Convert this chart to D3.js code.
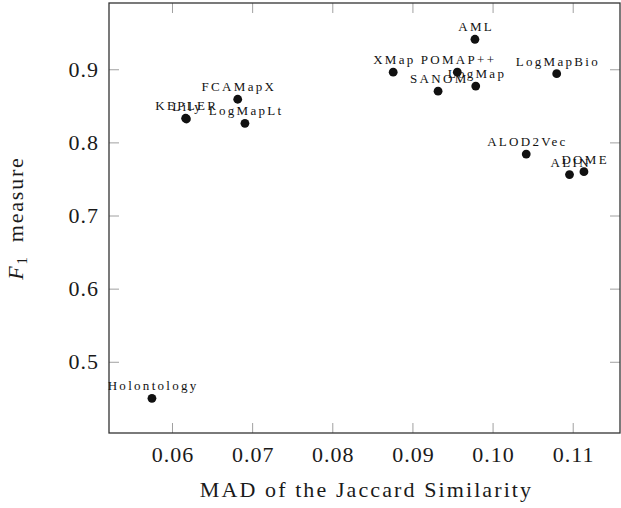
<!DOCTYPE html>
<html>
<head>
<meta charset="utf-8">
<script src="https://cdn.jsdelivr.net/npm/d3@7"></script>
<style>
  body { margin: 0; background: #fff; }
  text { font-family: "Liberation Serif", "DejaVu Serif", serif; fill: #1a1a1a; }
</style>
</head>
<body>
<svg width="621" height="508"></svg>
<script>
var systems = ['Holontology', 'KEPLER', 'Lily', 'FCAMapX', 'LogMapLt', 'XMap', 'POMAP++', 'SANOM',
		'AML', 'LogMap', 'LogMapBio', 'ALOD2Vec', 'ALIN', 'DOME'],
	mad = [0.0575, 0.0617, 0.0618, 0.0682, 0.0691, 0.0876, 0.0956, 0.0932,
		0.0978, 0.0979, 0.1080, 0.1042, 0.1096, 0.1114],
	f1 = [0.450, 0.833, 0.832, 0.859, 0.826, 0.896, 0.896, 0.870,
		0.941, 0.877, 0.894, 0.784, 0.756, 0.760],
	xTicks = [0.06, 0.07, 0.08, 0.09, 0.10, 0.11],
	yTicks = [0.5, 0.6, 0.7, 0.8, 0.9];

var svg = d3.select('svg'),
	pLeft = 109, pRight = 620, pTop = 3, pBottom = 433;

var x = d3.scaleLinear().domain([0.05214, 0.1159]).range([pLeft, pRight]),
	y = d3.scaleLinear().domain([0.4026, 0.9906]).range([pBottom, pTop]);

// ticks on all four sides, pointing inward (pgfplots look)
function tickAxis(axis, tx, ty) {
	var g = svg.append('g').attr('transform', 'translate(' + tx + ',' + ty + ')').call(axis);
	g.select('.domain').remove();
	g.selectAll('line').attr('stroke', '#a0a0a0').attr('stroke-width', 1);
	return g;
}

var gx = tickAxis(d3.axisBottom(x).tickValues(xTicks).tickSize(-10).tickPadding(13)
	.tickFormat(d3.format('.2f')), 0, pBottom);
gx.selectAll('text').attr('font-size', 22)
	.attr('letter-spacing', 1).attr('dx', 0.5).attr('dy', '0.71em');
tickAxis(d3.axisTop(x).tickValues(xTicks).tickSize(-10).tickFormat(''), 0, pTop);

var gy = tickAxis(d3.axisLeft(y).tickValues(yTicks).tickSize(-10).tickPadding(10)
	.tickFormat(d3.format('.1f')), pLeft, 0);
gy.selectAll('text').attr('font-size', 22).attr('letter-spacing', 1);
tickAxis(d3.axisRight(y).tickValues(yTicks).tickSize(-10).tickFormat(''), pRight, 0);

svg.append('rect')
	.attr('x', pLeft).attr('y', pTop)
	.attr('width', pRight - pLeft).attr('height', pBottom - pTop)
	.attr('fill', 'none').attr('stroke', '#333').attr('stroke-width', 1.3);

// points
svg.selectAll('circle.pt')
	.data(systems)
	.enter().append('circle')
	.attr('class', 'pt')
	.attr('cx', function(d, i){ return x(mad[i]); })
	.attr('cy', function(d, i){ return y(f1[i]); })
	.attr('r', 4.4)
	.attr('fill', '#111');

// labels above points
svg.selectAll('text.lbl')
	.data(systems)
	.enter().append('text')
	.attr('class', 'lbl')
	.attr('x', function(d, i){ return x(mad[i]) + 1.2; })
	.attr('y', function(d, i){ return y(f1[i]) - 8; })
	.attr('text-anchor', 'middle')
	.attr('font-size', 13)
	.attr('letter-spacing', 2.3)
	.style('fill', '#111')
	.text(function(d){ return d; });

// axis titles
svg.append('text')
	.attr('x', (pLeft + pRight) / 2 + 2).attr('y', 497)
	.attr('text-anchor', 'middle')
	.attr('font-size', 22)
	.attr('letter-spacing', 2.1)
	.text('MAD of the Jaccard Similarity');

var yl = svg.append('text')
	.attr('transform', 'translate(23,' + ((pTop + pBottom) / 2) + ') rotate(-90)')
	.attr('text-anchor', 'middle')
	.attr('font-size', 22)
	.attr('letter-spacing', 1.8);
yl.append('tspan').attr('font-style', 'italic').text('F');
yl.append('tspan').attr('font-size', 15).attr('dy', 4).text('1');
yl.append('tspan').attr('dy', -4).text('\u2002measure');
</script>
</body>
</html>
